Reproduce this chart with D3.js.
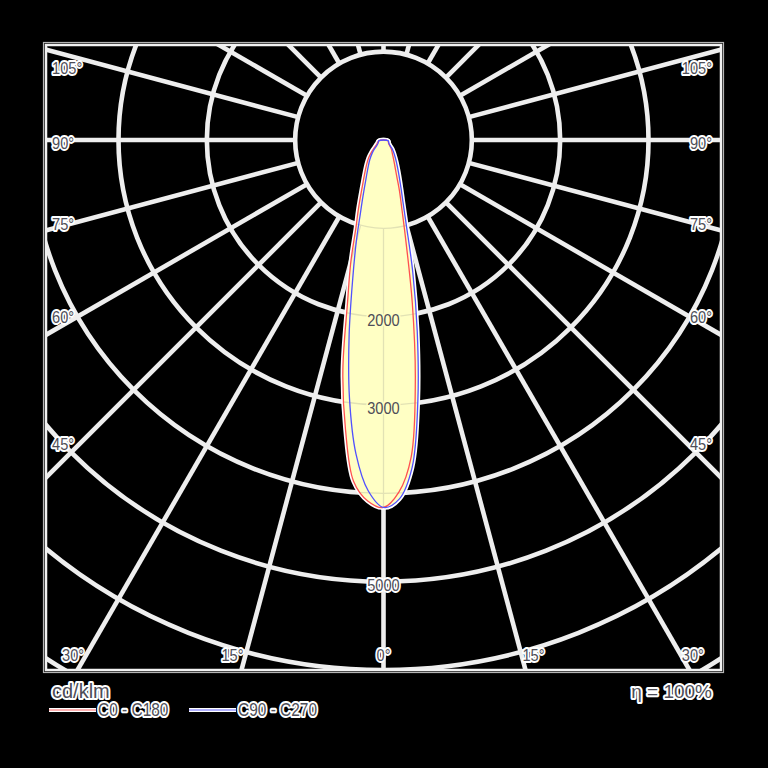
<!DOCTYPE html>
<html>
<head>
<meta charset="utf-8">
<script src="https://cdn.jsdelivr.net/npm/d3@7"></script>
<style>
html, body { margin: 0; padding: 0; background: #000; }
svg { display: block; }
text { font-family: "Liberation Sans", Arial, sans-serif; fill: #4e4e58; }
.halo { stroke: #fff; stroke-width: 4px; stroke-linejoin: round; paint-order: stroke; }
</style>
</head>
<body>
<div id="chart"></div>
<script>
// gamma angles (deg from nadir) and intensities in cd/klm for each half plane
var gamma = [0, 2.5, 5, 7.5, 10, 12.5, 15, 17.5, 20, 25, 30, 35, 40, 45, 50, 60, 70, 80, 90];
var c0   = [4160, 3990, 3600, 2760, 1880, 1170, 800, 600, 440, 290, 215, 170, 140, 110, 85, 65, 60, 50, 0];
var c180 = [4160, 4090, 3880, 3300, 2650, 1880, 1430, 1035, 830, 560, 420, 330, 260, 190, 135, 85, 68, 55, 0];
var c90  = [4160, 4070, 3720, 2980, 2200, 1530, 1000, 730, 580, 400, 295, 225, 175, 135, 95, 70, 62, 55, 0];
var c270 = [4160, 3975, 3570, 2950, 2240, 1610, 1190, 870, 680, 460, 345, 270, 205, 150, 100, 70, 62, 55, 0];

var circleTicks = [1000, 2000, 3000, 4000, 5000, 6000, 7000];
var circleLabels = [2000, 3000, 5000];
var rayAngles = d3.range(0, 181, 15);
var sideLabels = [105, 90, 75, 60, 45];
var bottomLabels = [-30, -15, 0, 15, 30];

var series = [
	{name: "C0 - C180", right: c0, left: c180, color: "#ff5050"},
	{name: "C90 - C270", right: c90, left: c270, color: "#5050ff"}
];

var width = 768, height = 768;
var frame = {left: 45, top: 44, right: 722, bottom: 671};
var cx = (frame.left + frame.right) / 2, cy = 140;

var r = d3.scaleLinear().domain([0, 6000]).range([0, 530]);
var rad = function(d) { return d * Math.PI / 180; };

function px(g, side, v) { return cx + side * r(v) * Math.sin(rad(g)); }
function py(g, v) { return cy + r(v) * Math.cos(rad(g)); }

var svg = d3.select("#chart").append("svg")
	.attr("width", width)
	.attr("height", height);

var defs = svg.append("defs");
defs.append("clipPath").attr("id", "frameClip")
	.append("rect")
	.attr("x", frame.left + 2).attr("y", frame.top + 2)
	.attr("width", frame.right - frame.left - 4)
	.attr("height", frame.bottom - frame.top - 4);

// grid
var grid = svg.append("g").attr("clip-path", "url(#frameClip)")
	.attr("stroke", "#eeeeee").attr("stroke-width", 4.6).attr("fill", "none");

grid.selectAll("circle")
	.data(circleTicks)
	.enter().append("circle")
	.attr("cx", cx).attr("cy", cy)
	.attr("r", function(d) { return r(d); });

var rays = [];
rayAngles.forEach(function(g) {
	rays.push({g: g, side: 1});
	if (g > 0 && g < 180) rays.push({g: g, side: -1});
});

grid.selectAll("line")
	.data(rays)
	.enter().append("line")
	.attr("x1", function(d) { return px(d.g, d.side, 1000); })
	.attr("y1", function(d) { return py(d.g, 1000); })
	.attr("x2", function(d) { return px(d.g, d.side, 9000); })
	.attr("y2", function(d) { return py(d.g, 9000); });

// frame
svg.append("rect")
	.attr("x", frame.left - 1.5).attr("y", frame.top - 1.5)
	.attr("width", frame.right - frame.left + 3)
	.attr("height", frame.bottom - frame.top + 3)
	.attr("fill", "none").attr("stroke", "#b5b5b5").attr("stroke-width", 1.2);
svg.append("rect")
	.attr("x", frame.left + 1).attr("y", frame.top + 1)
	.attr("width", frame.right - frame.left - 2)
	.attr("height", frame.bottom - frame.top - 2)
	.attr("fill", "none").attr("stroke", "#f2f2f2").attr("stroke-width", 2.5);

// beam curves
function points(s) {
	var pts = [];
	for (var i = gamma.length - 2; i >= 1; i--) pts.push([px(gamma[i], -1, s.left[i]), py(gamma[i], s.left[i])]);
	for (var j = 0; j < gamma.length; j++) pts.push([px(gamma[j], 1, s.right[j]), py(gamma[j], s.right[j])]);
	return pts;
}

var line = d3.line().curve(d3.curveCatmullRomClosed.alpha(0.5));

defs.append("clipPath").attr("id", "beamClip")
	.selectAll("path")
	.data(series)
	.enter().append("path")
	.attr("d", function(d) { return line(points(d)); });

svg.append("g").selectAll("path")
	.data(series)
	.enter().append("path")
	.attr("d", function(d) { return line(points(d)); })
	.attr("fill", "none").attr("stroke", "#ffffff").attr("stroke-width", 4.5);

svg.append("g").selectAll("path")
	.data(series)
	.enter().append("path")
	.attr("d", function(d) { return line(points(d)); })
	.attr("fill", "#ffffc4");

// faint grid inside the beam
var inner = svg.append("g").attr("clip-path", "url(#beamClip)")
	.attr("stroke", "#e2e2b4").attr("stroke-width", 1.3).attr("fill", "none");
inner.selectAll("circle")
	.data(circleTicks)
	.enter().append("circle")
	.attr("cx", cx).attr("cy", cy)
	.attr("r", function(d) { return r(d); });
inner.selectAll("line")
	.data(rays)
	.enter().append("line")
	.attr("x1", function(d) { return px(d.g, d.side, 1000); })
	.attr("y1", function(d) { return py(d.g, 1000); })
	.attr("x2", function(d) { return px(d.g, d.side, 9000); })
	.attr("y2", function(d) { return py(d.g, 9000); });

svg.append("g").selectAll("path")
	.data(series)
	.enter().append("path")
	.attr("d", function(d) { return line(points(d)); })
	.attr("fill", "none")
	.attr("stroke", function(d) { return d.color; })
	.attr("stroke-width", 1.3);

// labels
function label(x, y, txt, anchor, size, sx, haloColor) {
	var t = svg.append("text")
		.attr("class", "halo")
		.attr("transform", "translate(" + x + "," + y + ") scale(" + sx + ",1)")
		.attr("text-anchor", anchor)
		.attr("dy", "0.35em")
		.style("font-size", size + "px")
		.text(txt);
	if (haloColor) t.style("stroke", haloColor);
	return t;
}

var beamMax = d3.max(c0.concat(c180, c90, c270));
circleLabels.forEach(function(v) {
	label(cx, cy + r(v) + 3, v, "middle", 17, 0.86, v < beamMax ? "#ffffc4" : null);
});

sideLabels.forEach(function(g) {
	var d = cx - 82;
	var y = cy + d * Math.cos(rad(g)) / Math.sin(rad(g)) + (g > 90 ? 9 : 3);
	label(frame.left + 7, y, g + "°", "start", 17, 0.86);
	label(frame.right - 10, y, g + "°", "end", 17, 0.86);
});

bottomLabels.forEach(function(g) {
	var y = 655;
	var x = cx + (y - cy) * Math.tan(rad(g));
	var anchor = g < 0 ? "end" : (g > 0 ? "start" : "middle");
	label(g < 0 ? x - 2 : (g > 0 ? x + 1 : cx), y, Math.abs(g) + "°", anchor, 17, 0.86);
});

// units, efficiency and legend
label(52, 691, "cd/klm", "start", 20, 1);
label(712, 691, "η = 100%", "end", 19, 1);

var legend = svg.append("g");
var legendX = [49, 189];
series.forEach(function(s, i) {
	var x0 = legendX[i];
	legend.append("line")
		.attr("x1", x0).attr("x2", x0 + 47).attr("y1", 710).attr("y2", 710)
		.attr("stroke", "#fff").attr("stroke-width", 4);
	legend.append("line")
		.attr("x1", x0).attr("x2", x0 + 47).attr("y1", 710).attr("y2", 710)
		.attr("stroke", s.color).attr("stroke-width", 1.3).attr("stroke-opacity", 0.6);
	label(x0 + 49, 710, s.name, "start", 18, 0.86);
});
</script>
</body>
</html>
